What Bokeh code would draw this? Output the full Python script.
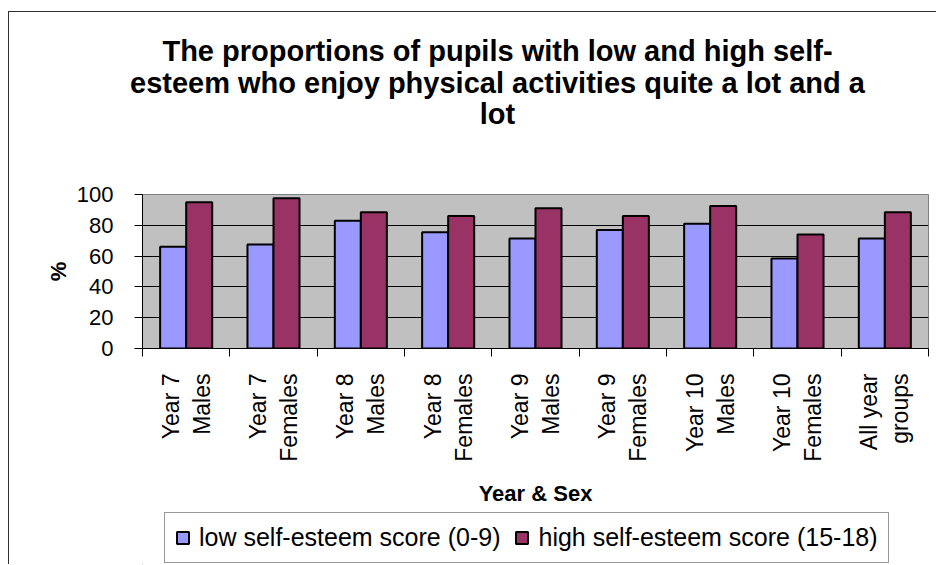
import numpy as np
from bokeh.plotting import figure
from bokeh.layouts import column
from bokeh.models import (ColumnDataSource, Range1d, LinearAxis, FixedTicker,
                          Legend, LegendItem, Label)
from bokeh.embed import file_html
from bokeh.resources import INLINE

# ---- data ----
categories = ["Year 7\nMales", "Year 7\nFemales", "Year 8\nMales", "Year 8\nFemales",
              "Year 9\nMales", "Year 9\nFemales", "Year 10\nMales", "Year 10\nFemales",
              "All year\ngroups"]
low_scores = [66, 67.5, 83, 75.5, 71.5, 77, 81, 58.5, 71.5]
high_scores = [95, 97.5, 88.5, 86, 91, 86, 92.5, 74, 88.5]
y_ticks = [0, 20, 40, 60, 80, 100]
title_lines = ["The proportions of pupils with low and high self-",
               "esteem who enjoy physical activities quite a lot and a",
               "lot"]
series_names = ["low self-esteem score (0-9)", "high self-esteem score (15-18)"]
LOW_COLOR = "#9999FF"
HIGH_COLOR = "#993366"

FONT = "Liberation Sans"
BORDER = "1px solid #303030"
W = 928
LEFT = 133
RIGHT = 9
FW = W - LEFT - RIGHT          # frame width shared by chart and legend panels
n = len(categories)
centers = np.arange(n) + 0.5
bw = 0.298

src = ColumnDataSource(dict(
    xl=centers - bw / 2, xh=centers + bw / 2,
    low=low_scores, high=high_scores))

# ---------- title panel (own root, full-width frame) ----------
TH = 128
pt = figure(width=W, height=TH, output_backend="svg", toolbar_location=None,
            x_range=Range1d(0, W), y_range=Range1d(0, TH), min_border=0,
            x_axis_type=None, y_axis_type=None)
pt.outline_line_color = None
pt.grid.visible = False
pt.styles = {"border-left": BORDER, "border-top": BORDER,
             "margin-left": "8px", "margin-top": "11px"}
title_y = [90, 58, 27]
for line, ty in zip(title_lines, title_y):
    pt.add_layout(Label(x=488, y=ty, text=line, text_align="center",
                        text_baseline="middle", text_font=FONT, text_font_style="bold",
                        text_font_size="29px", text_color="black"))

# ---------- main chart ----------
p = figure(width=W, height=372, output_backend="svg", toolbar_location=None,
           x_range=Range1d(0, n), y_range=Range1d(0, 100),
           min_border_left=LEFT, min_border_right=RIGHT, min_border_top=55,
           min_border_bottom=163, x_axis_type=None)
p.background_fill_color = "#C0C0C0"
p.border_fill_color = "white"
p.outline_line_color = "#808080"
p.outline_line_width = 1

p.vbar(x="xl", top="low", width=bw, source=src, fill_color=LOW_COLOR,
       line_color="black", line_width=2)
p.vbar(x="xh", top="high", width=bw, source=src, fill_color=HIGH_COLOR,
       line_color="black", line_width=2)

p.xgrid.visible = False
p.ygrid.grid_line_color = "black"
p.ygrid.grid_line_width = 1
p.ygrid.ticker = FixedTicker(ticks=y_ticks)

ya = p.yaxis[0]
ya.ticker = FixedTicker(ticks=y_ticks)
ya.major_tick_out = 8
ya.major_tick_in = 0
ya.minor_tick_out = 0
ya.minor_tick_in = 0
ya.major_tick_line_color = "black"
ya.axis_line_color = "black"
ya.major_label_text_font = FONT
ya.major_label_text_font_size = "22px"
ya.major_label_text_color = "black"
ya.major_label_standoff = 21
ya.axis_label = "%"
ya.axis_label_text_font = FONT
ya.axis_label_text_font_style = "bold"
ya.axis_label_text_font_size = "22px"
ya.axis_label_text_color = "black"
ya.axis_label_standoff = 3

# category axis: labels at bar-group centres, tick marks at group boundaries
xa = LinearAxis(ticker=FixedTicker(ticks=list(centers),
                                   minor_ticks=list(range(n + 1))))
xa.major_label_overrides = {float(c): lab for c, lab in zip(centers, categories)}
xa.major_label_orientation = np.pi / 2
xa.major_label_text_font = FONT
xa.major_label_text_font_size = "23px"
xa.major_label_text_color = "black"
xa.major_label_standoff = 17
xa.major_tick_out = 0
xa.major_tick_in = 0
xa.minor_tick_out = 8
xa.minor_tick_in = 0
xa.minor_tick_line_color = "black"
xa.axis_line_color = "black"
xa.axis_label = "Year & Sex"
xa.axis_label_text_font = FONT
xa.axis_label_text_font_style = "bold"
xa.axis_label_text_font_size = "22px"
xa.axis_label_text_color = "black"
xa.axis_label_standoff = 16
p.add_layout(xa, "below")

# ---------- legend panel ----------
LH = 53
pl = figure(width=W, height=LH, output_backend="svg", toolbar_location=None,
            x_range=Range1d(0, FW), y_range=Range1d(0, LH), min_border=0,
            min_border_left=LEFT, min_border_right=RIGHT,
            x_axis_type=None, y_axis_type=None)
pl.outline_line_color = None
pl.grid.visible = False
# swatch renderers (zero height, outside the visible range; only their styles feed the legend)
k_low = pl.vbar(x=[-100], top=[0], width=1, fill_color=LOW_COLOR, line_color="black",
                line_width=2)
k_high = pl.vbar(x=[-100], top=[0], width=1, fill_color=HIGH_COLOR, line_color="black",
                 line_width=2)
legend = Legend(items=[LegendItem(label=series_names[0], renderers=[k_low]),
                       LegendItem(label=series_names[1], renderers=[k_high])],
                orientation="horizontal", location=(22, 1))
legend.label_text_font = FONT
legend.label_text_font_size = "25px"
legend.label_text_color = "black"
legend.glyph_width = 15
legend.glyph_height = 15
legend.label_standoff = 9
legend.spacing = 14
legend.padding = 10
legend.margin = 0
legend.border_line_color = "#303030"
legend.border_line_width = 1
legend.background_fill_color = "white"
legend.background_fill_alpha = 1
pl.add_layout(legend, "center")

layout = column(p, pl, spacing=0,
                styles={"border-left": BORDER, "margin-left": "8px"})

open("out.html", "w").write(file_html([pt, layout], INLINE))
